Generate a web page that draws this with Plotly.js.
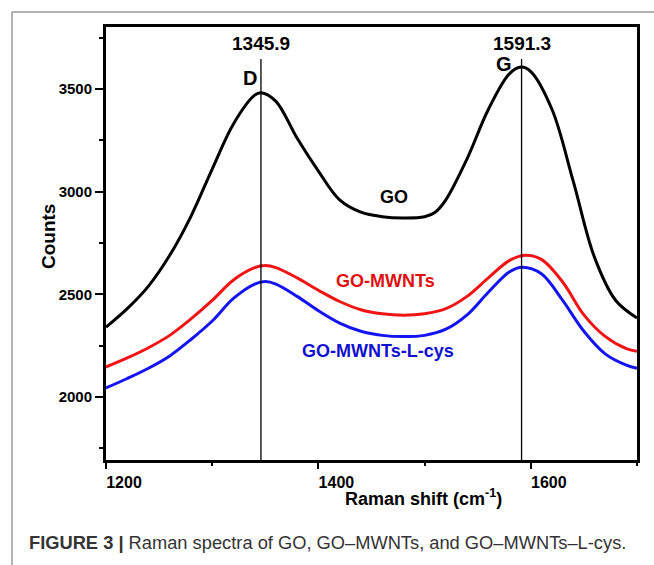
<!DOCTYPE html>
<html>
<head>
<meta charset="utf-8">
<script src="https://cdn.plot.ly/plotly-3.0.1.min.js"></script>
<style>
html,body{margin:0;padding:0;background:#fff;}
#chart{width:654px;height:565px;}
</style>
</head>
<body>
<div id="chart"></div>
<script>
// Raman shift (cm^-1) sample points and counts for each spectrum
const goShift = [1200,1220,1240,1260,1280,1300,1320,1340,1346,1360,1380,1400,1420,1440,1460,1480,1500,1510,1520,1540,1560,1580,1591,1600,1620,1640,1660,1680,1700];
const goCounts = [2340,2430,2540,2690,2880,3110,3330,3470,3482,3440,3260,3100,2960,2900,2878,2872,2878,2900,2960,3160,3400,3575,3607,3585,3400,3050,2680,2470,2385];

const mwShift = [1200,1220,1240,1260,1280,1300,1320,1340,1350,1360,1380,1400,1420,1440,1460,1480,1500,1520,1540,1560,1580,1595,1610,1630,1650,1670,1690,1700];
const mwCounts = [2146,2190,2240,2300,2380,2470,2570,2630,2640,2630,2580,2520,2465,2425,2405,2398,2405,2430,2490,2580,2665,2690,2670,2560,2400,2295,2235,2222];

const cysShift = [1200,1220,1240,1260,1280,1300,1320,1340,1350,1360,1380,1400,1420,1440,1460,1480,1500,1520,1540,1560,1580,1592,1610,1630,1650,1670,1690,1700];
const cysCounts = [2044,2090,2140,2200,2280,2370,2480,2550,2562,2550,2490,2420,2360,2320,2300,2294,2300,2330,2400,2510,2610,2632,2600,2470,2320,2210,2155,2140];

// Peak positions
const peakNames = ["D", "G"];
const peakShift = [1345.9, 1591.3];

// Axis settings
const xRange = [1200, 1700];
const yRange = [1693, 3802];
const xTicks = [1200, 1400, 1600];
const yTicks = [2000, 2500, 3000, 3500];
const lineTop = 3646;

const F = "Liberation Sans, Arial, sans-serif";

const traces = [
  {x: goShift, y: goCounts, mode: "lines", line: {color: "#000000", width: 3, shape: "spline", smoothing: 1}, hoverinfo: "skip"},
  {x: mwShift, y: mwCounts, mode: "lines", line: {color: "#f01414", width: 3, shape: "spline", smoothing: 1}, hoverinfo: "skip"},
  {x: cysShift, y: cysCounts, mode: "lines", line: {color: "#1414f0", width: 3, shape: "spline", smoothing: 1}, hoverinfo: "skip"}
];
peakShift.forEach(p => {
  traces.push({x: [p, p], y: [yRange[0], lineTop], mode: "lines", line: {color: "#000000", width: 1.3}, hoverinfo: "skip"});
});

const C = {xanchor: "center", yanchor: "middle", showarrow: false};
const annotations = [
  Object.assign({x: peakShift[0], y: 3724, xref: "x", yref: "y", text: String(peakShift[0]), font: {family: F, size: 19, weight: "bold", color: "#000"}}, C),
  Object.assign({x: peakShift[1], y: 3724, xref: "x", yref: "y", text: String(peakShift[1]), font: {family: F, size: 19, weight: "bold", color: "#000"}}, C),
  Object.assign({x: 1335.5, y: 3554, xref: "x", yref: "y", text: peakNames[0], font: {family: F, size: 20, weight: "bold", color: "#000"}}, C),
  Object.assign({x: 1575, y: 3622, xref: "x", yref: "y", text: peakNames[1], font: {family: F, size: 20, weight: "bold", color: "#000"}}, C),
  Object.assign({x: 1471, y: 2974, xref: "x", yref: "y", text: "GO", font: {family: F, size: 18, weight: "bold", color: "#000"}}, C),
  Object.assign({x: 1463.5, y: 2565, xref: "x", yref: "y", text: "GO-MWNTs", font: {family: F, size: 18, weight: "bold", color: "#e01010"}}, C),
  Object.assign({x: 1456, y: 2224, xref: "x", yref: "y", text: "GO-MWNTs-L-cys", font: {family: F, size: 18, weight: "bold", color: "#1010d0"}}, C),
  Object.assign({x: (423-106)/531, y: (460-497)/433, xref: "paper", yref: "paper", text: "Raman shift (cm<sup>-1</sup>)", font: {family: F, size: 18, weight: "bold", color: "#000"}}, C),
  Object.assign({x: (48-106)/531, y: (460-237)/433, xref: "paper", yref: "paper", text: "Counts", textangle: -90, font: {family: F, size: 19, weight: "bold", color: "#000"}}, C),
  {x: (27-106)/531, y: (460-542)/433, xref: "paper", yref: "paper", xanchor: "left", yanchor: "middle", showarrow: false, text: "<b>FIGURE 3 |</b> Raman spectra of GO, GO–MWNTs, and GO–MWNTs–L-cys.", font: {family: F, size: 18.3, color: "#333"}}
];

const shapes = [
  {type: "line", xref: "paper", yref: "paper", x0: (12-106)/531, x1: (12-106)/531, y0: (460-12)/433, y1: (460-570)/433, line: {color: "#666", width: 1}},
  {type: "line", xref: "paper", yref: "paper", x0: (12-106)/531, x1: (660-106)/531, y0: (460-12)/433, y1: (460-12)/433, line: {color: "#666", width: 1}}
];

const layout = {
  width: 654, height: 565,
  margin: {l: 106, r: 17, t: 27, b: 105},
  paper_bgcolor: "#fff", plot_bgcolor: "#fff",
  showlegend: false,
  xaxis: {
    range: xRange, tickvals: xTicks, ticktext: xTicks.map(String),
    showgrid: false, zeroline: false, showline: true, mirror: true, linecolor: "#000", linewidth: 3,
    ticks: "outside", ticklen: 6, tickwidth: 2, tickcolor: "#000", ticklabelshift: 18,
    tickfont: {family: F, size: 16, weight: "bold", color: "#000"},
    minor: {dtick: 100, tick0: 1200, ticks: "outside", ticklen: 3, tickwidth: 2, tickcolor: "#000", showgrid: false}
  },
  yaxis: {
    range: yRange, tickvals: yTicks, ticktext: yTicks.map(String),
    showgrid: false, zeroline: false, showline: true, mirror: true, linecolor: "#000", linewidth: 3,
    ticks: "outside", ticklen: 8, tickwidth: 2, tickcolor: "#000",
    tickfont: {family: F, size: 15, weight: "bold", color: "#000"},
    minor: {dtick: 250, tick0: 1750, ticks: "outside", ticklen: 4, tickwidth: 2, tickcolor: "#000", showgrid: false}
  },
  annotations: annotations,
  shapes: shapes
};

Plotly.newPlot("chart", traces, layout, {displayModeBar: false, staticPlot: true});
</script>
</body>
</html>
